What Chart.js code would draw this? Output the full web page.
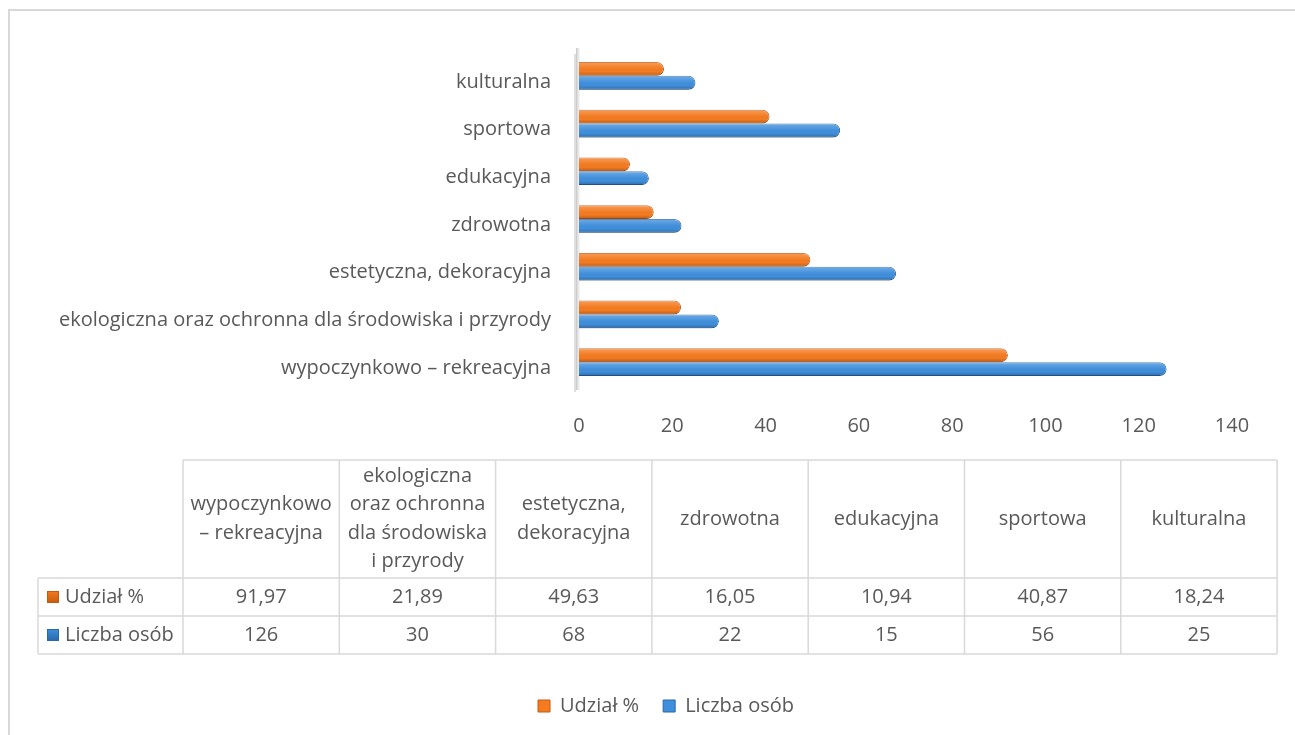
<!DOCTYPE html>
<html>
<head>
<meta charset="utf-8">
<script src="https://cdn.jsdelivr.net/npm/chart.js@4"></script>
<style>
  html, body { margin: 0; padding: 0; background: #fff; }
  #wrap { position: relative; width: 1295px; height: 735px; overflow: hidden; }
  #frame { position: absolute; left: 8px; top: 9px; width: 1400px; height: 800px;
           border-left: 2px solid #d9d9d9; border-top: 2px solid #d9d9d9; }
  canvas { position: absolute; left: 0; top: 0; }
</style>
</head>
<body>
<div id="wrap">
  <div id="frame"></div>
  <canvas id="chart" width="1295" height="735"></canvas>
</div>
<script>
// categories in table order (bottom to top on the chart)
const categories = [
    'wypoczynkowo – rekreacyjna',
    'ekologiczna oraz ochronna dla środowiska i przyrody',
    'estetyczna, dekoracyjna',
    'zdrowotna',
    'edukacyjna',
    'sportowa',
    'kulturalna'
];
const udzial = [91.97, 21.89, 49.63, 16.05, 10.94, 40.87, 18.24];
const liczba = [126, 30, 68, 22, 15, 56, 25];
const xTicks = [0, 20, 40, 60, 80, 100, 120, 140];

const FONT = '"Open Sans", "Liberation Sans", sans-serif';
const FS = 20;
const TEXT = '#595959';
const ORANGE = '#f47b20';
const ORANGE_EDGE = '#c55a11';
const BLUE = '#3f8fdc';
const BLUE_EDGE = '#2a68a8';

// polish decimal comma for the table
function fmt(v) {
    return String(v).replace('.', ',');
}

// wraps header text to the cell width, a lone dash sticks to the next word
function wrapText(ctx, text, maxW) {
    const raw = text.split(' ');
    const words = [];
    for (let i = 0; i < raw.length; i++) {
        if (raw[i] === '–' && i + 1 < raw.length) {
            words.push(raw[i] + ' ' + raw[i + 1]);
            i++;
        } else {
            words.push(raw[i]);
        }
    }
    const lines = [];
    let line = '';
    words.forEach(w => {
        const test = line ? line + ' ' + w : w;
        if (ctx.measureText(test).width > maxW && line) {
            lines.push(line);
            line = w;
        } else {
            line = test;
        }
    });
    if (line) lines.push(line);
    return lines;
}

function legendKey(ctx, x, y, color, edge) {
    const g = ctx.createLinearGradient(x, y, x, y + 12);
    g.addColorStop(0, color);
    g.addColorStop(1, edge);
    ctx.fillStyle = g;
    ctx.fillRect(x, y, 12, 12);
    ctx.strokeStyle = edge;
    ctx.lineWidth = 1;
    ctx.strokeRect(x + 0.5, y + 0.5, 11, 11);
}

// the grey "wall" behind the category axis
const wallPlugin = {
    id: 'wall',
    afterLayout(chart) {
        // legend sits a bit right of the canvas centre, like the original
        chart.legend.left += 45;
        chart.legend.right += 45;
    },
    beforeDatasetsDraw(chart) {
        const { ctx, chartArea } = chart;
        const l = chartArea.left;
        ctx.save();
        ctx.fillStyle = '#dedede';
        ctx.fillRect(l - 5, chartArea.top + 2, 2, chartArea.bottom - chartArea.top + 4);
        const g = ctx.createLinearGradient(l - 3, 0, l + 1, 0);
        g.addColorStop(0, '#c4c4c4');
        g.addColorStop(1, 'rgba(230,230,230,0.3)');
        ctx.fillStyle = g;
        ctx.fillRect(l - 3, chartArea.top - 4, 4, chartArea.bottom - chartArea.top + 8);
        ctx.restore();
    }
};

// cylinder shading on top of each bar
const shadePlugin = {
    id: 'shade',
    afterDatasetsDraw(chart) {
        const ctx = chart.ctx;
        chart.data.datasets.forEach((ds, i) => {
            chart.getDatasetMeta(i).data.forEach(el => {
                const p = el.getProps(['x', 'y', 'base', 'height'], true);
                const top = p.y - p.height / 2;
                const g = ctx.createLinearGradient(0, top, 0, top + p.height);
                g.addColorStop(0, 'rgba(255,255,255,0.25)');
                g.addColorStop(0.35, 'rgba(255,255,255,0.08)');
                g.addColorStop(0.7, 'rgba(0,0,0,0)');
                g.addColorStop(1, 'rgba(0,0,0,0.25)');
                ctx.save();
                ctx.beginPath();
                const r = Math.min(p.height / 2, 7);
                ctx.moveTo(p.base, top);
                ctx.lineTo(p.x - r, top);
                ctx.arcTo(p.x, top, p.x, top + r, r);
                ctx.lineTo(p.x, top + p.height - r);
                ctx.arcTo(p.x, top + p.height, p.x - r, top + p.height, r);
                ctx.lineTo(p.base, top + p.height);
                ctx.closePath();
                ctx.fillStyle = g;
                ctx.fill();
                ctx.restore();
            });
        });
    }
};

// data table drawn under the x axis
const tablePlugin = {
    id: 'dataTable',
    afterDraw(chart) {
        const ctx = chart.ctx;
        const left = 38, labelW = 145, colW = 156.3;
        const top = 460, headH = 118, rowH = 38;
        const x0 = left + labelW;
        const xEnd = x0 + colW * categories.length;
        const rows = [
            { name: 'Udział %', values: udzial.map(fmt), color: ORANGE, edge: ORANGE_EDGE },
            { name: 'Liczba osób', values: liczba.map(fmt), color: BLUE, edge: BLUE_EDGE }
        ];

        ctx.save();
        ctx.strokeStyle = '#d9d9d9';
        ctx.lineWidth = 1.5;
        ctx.beginPath();
        ctx.moveTo(x0, top); ctx.lineTo(xEnd, top);
        for (let r = 0; r <= rows.length; r++) {
            const y = top + headH + r * rowH;
            ctx.moveTo(left, y); ctx.lineTo(xEnd, y);
        }
        for (let c = 0; c <= categories.length; c++) {
            const x = x0 + c * colW;
            ctx.moveTo(x, top); ctx.lineTo(x, top + headH + rows.length * rowH);
        }
        ctx.moveTo(left, top + headH); ctx.lineTo(left, top + headH + rows.length * rowH);
        ctx.stroke();

        ctx.fillStyle = TEXT;
        ctx.font = FS + 'px ' + FONT;
        ctx.textAlign = 'center';
        ctx.textBaseline = 'middle';
        const lh = 28.5;
        categories.forEach((cat, c) => {
            const lines = wrapText(ctx, cat, colW - 10);
            const cx = x0 + c * colW + colW / 2;
            const cy = top + headH / 2;
            lines.forEach((ln, k) => {
                ctx.fillText(ln, cx, cy + (k - (lines.length - 1) / 2) * lh);
            });
        });

        rows.forEach((row, r) => {
            const cy = top + headH + r * rowH + rowH / 2;
            legendKey(ctx, left + 9, cy - 6, row.color, row.edge);
            ctx.fillStyle = TEXT;
            ctx.textAlign = 'left';
            ctx.fillText(row.name, left + 27, cy);
            ctx.textAlign = 'center';
            row.values.forEach((v, c) => {
                ctx.fillText(v, x0 + c * colW + colW / 2, cy);
            });
        });
        ctx.restore();
    }
};

new Chart(document.getElementById('chart'), {
    type: 'bar',
    data: {
        labels: categories,
        datasets: [
            {
                label: 'Udział %',
                data: udzial,
                backgroundColor: ORANGE,
                borderColor: ORANGE_EDGE,
                borderWidth: 1,
                borderRadius: 7,
                borderSkipped: 'start'
            },
            {
                label: 'Liczba osób',
                data: liczba,
                backgroundColor: BLUE,
                borderColor: BLUE_EDGE,
                borderWidth: 1,
                borderRadius: 7,
                borderSkipped: 'start'
            }
        ]
    },
    options: {
        indexAxis: 'y',
        responsive: false,
        animation: false,
        datasets: {
            bar: {
                categoryPercentage: 0.58,
                barPercentage: 1.0
            }
        },
        layout: {
            padding: { left: 10, right: 63, top: 52, bottom: 9 }
        },
        plugins: {
            legend: {
                position: 'bottom',
                labels: {
                    color: TEXT,
                    font: { family: FONT, size: FS },
                    boxWidth: 12,
                    boxHeight: 12,
                    padding: 24
                }
            },
            tooltip: { enabled: false }
        },
        scales: {
            x: {
                min: 0,
                max: 140,
                afterBuildTicks: scale => {
                    scale.ticks = xTicks.map(v => ({ value: v }));
                },
                afterFit: scale => {
                    scale.height = 286;
                },
                grid: { display: false },
                border: { display: false },
                ticks: {
                    color: TEXT,
                    font: { family: FONT, size: FS },
                    padding: 20
                }
            },
            y: {
                reverse: true,
                afterFit: scale => {
                    scale.width = 569;
                },
                grid: { display: false },
                border: { display: false },
                ticks: {
                    color: TEXT,
                    font: { family: FONT, size: FS },
                    padding: 20,
                    labelOffset: 6
                }
            }
        }
    },
    plugins: [wallPlugin, shadePlugin, tablePlugin]
});
</script>
</body>
</html>
